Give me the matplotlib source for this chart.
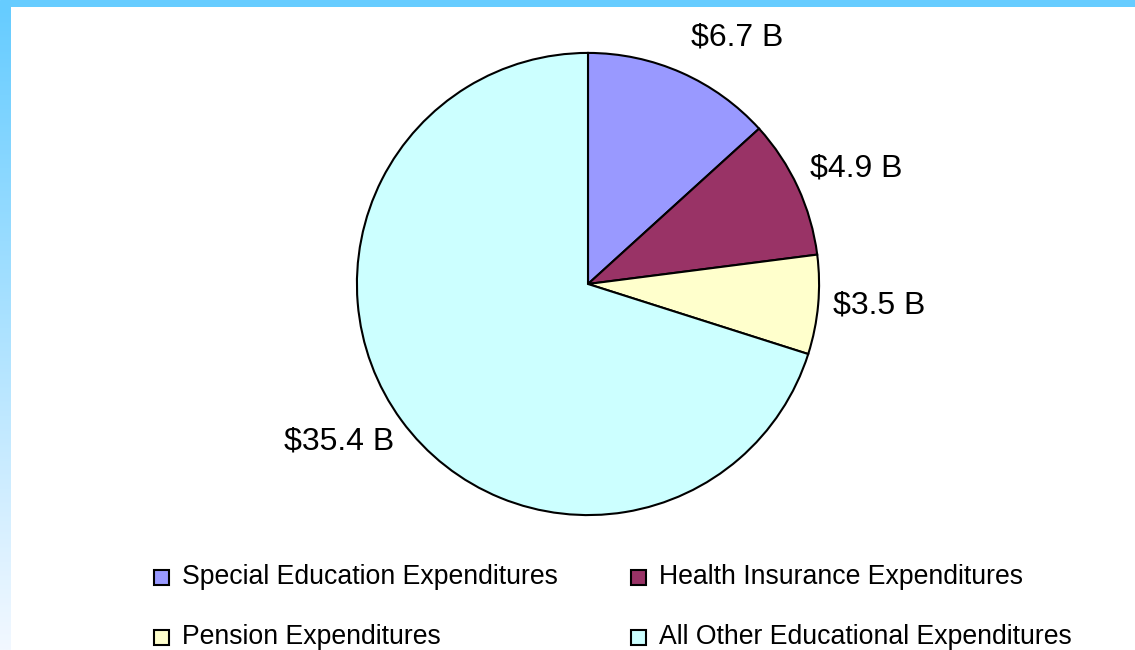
import numpy as np
import matplotlib
matplotlib.use("Agg")
import matplotlib.pyplot as plt
from matplotlib.patches import Rectangle
from matplotlib.colors import LinearSegmentedColormap

categories = ["Special Education Expenditures", "Health Insurance Expenditures",
              "Pension Expenditures", "All Other Educational Expenditures"]
values = [6.7, 4.9, 3.5, 35.4]
labels = ["$6.7 B", "$4.9 B", "$3.5 B", "$35.4 B"]
colors = ["#9999FF", "#993366", "#FFFFCC", "#CCFFFF"]

plt.rcParams['font.family'] = ['Liberation Sans', 'DejaVu Sans']

W, H = 1135, 650
fig = plt.figure(figsize=(W / 100, H / 100), dpi=100)
fig.patch.set_facecolor("white")

def fx(x):
    return x / W

def fy(y):
    return 1 - y / H

# border: top strip and left gradient
top = fig.add_axes([0, fy(7), 1, 7 / H])
top.set_axis_off()
top.add_patch(Rectangle((0, 0), 1, 1, color="#66CCFF"))
left = fig.add_axes([0, 0, fx(11), fy(7)])
left.set_axis_off()
cmap = LinearSegmentedColormap.from_list("g", ["#66CCFF", "#F2F8FF"])
grad = np.linspace(0, 1, 256).reshape(-1, 1)
left.imshow(grad, aspect="auto", cmap=cmap, extent=[0, 1, 0, 1], origin="upper")

# pie
cx, cy, r = 588, 284, 232
ax = fig.add_axes([fx(cx - r), fy(cy + r), 2 * r / W, 2 * r / H])
ax.pie(values, colors=colors, startangle=90, counterclock=False,
       wedgeprops=dict(edgecolor="black", linewidth=1.5))
ax.set_xlim(-1.004, 1.004)
ax.set_ylim(-1.004, 1.004)
ax.set_axis_off()

# data labels
label_pos = [(737, 38), (856, 168), (879, 305), (339, 442)]
for (lx, ly), t in zip(label_pos, labels):
    fig.text(fx(lx), fy(ly), t, ha="center", va="center", fontsize=23)

# legend
leg_pos = [(154, 577), (631, 577), (154, 637), (631, 637)]
s = 15
for (mx, my), c, name in zip(leg_pos, colors, categories):
    fig.patches.append(Rectangle((fx(mx), fy(my + s / 2)), s / W, s / H,
                                 transform=fig.transFigure, facecolor=c,
                                 edgecolor="black", linewidth=1.5))
    fig.text(fx(mx + 28), fy(my), name, ha="left", va="center", fontsize=19.2)

fig.savefig("out.png", dpi=100)
